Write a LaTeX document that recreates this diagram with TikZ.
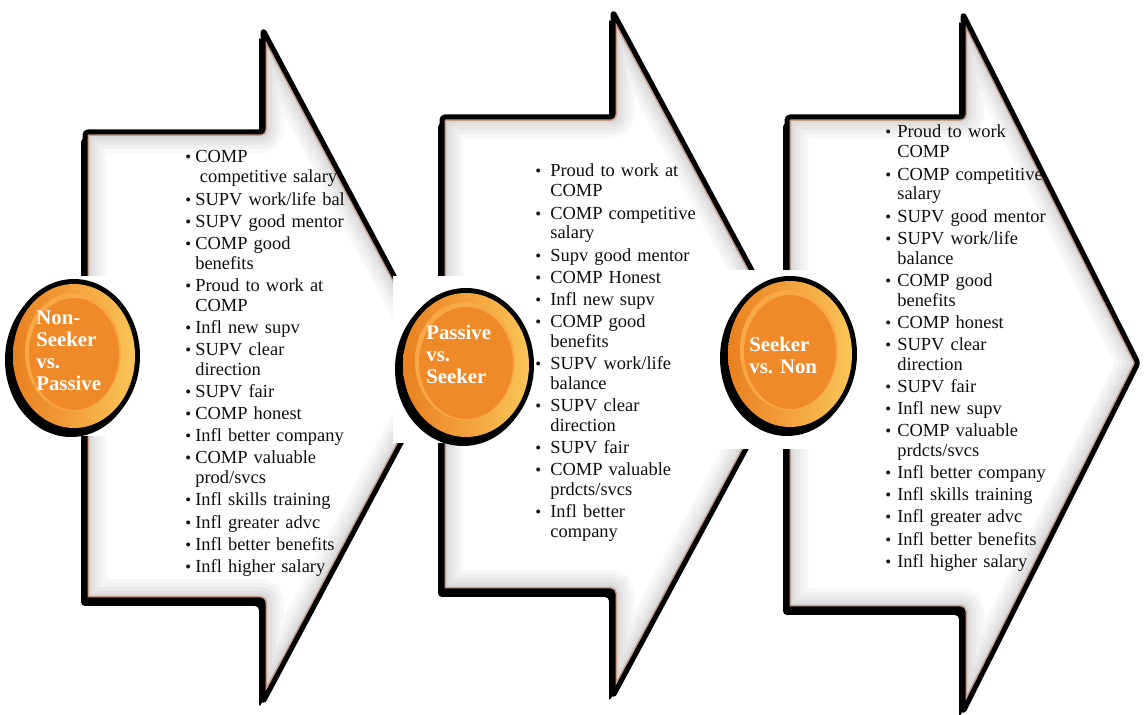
\documentclass[tikz,border=0pt]{standalone}
\usepackage{fontspec}
\setmainfont{Liberation Serif}
\newlength\pxl \setlength\pxl{0.02cm}
\newlength\bind
\definecolor{orbring}{RGB}{234,128,32}
\definecolor{orbhl}{RGB}{250,196,88}
\definecolor{orbcore}{RGB}{240,138,40}
\definecolor{orbrim}{RGB}{249,168,72}
\definecolor{bevrim}{RGB}{200,156,136}
\definecolor{inktext}{RGB}{15,15,15}

\tikzset{
  chevshadow/.style={fill=black, rounded corners=4\pxl},
  chevfill/.style={fill=white, rounded corners=3\pxl},
  chevedge/.style={draw=black, line width=5\pxl, rounded corners=3\pxl, line join=round},
  listtext/.style={anchor=base west, inner sep=0pt, text width=300\pxl, text=inktext,
    font=\fontsize{10.49pt}{11.34pt}\selectfont},
  orbtext/.style={anchor=base west, inner sep=0pt, text width=100\pxl, align=left, text=white,
    font=\bfseries\fontsize{11.85pt}{12.47pt}\selectfont},
}

% left x, body half height, neck x, head half height, tip x, middle y
\newcommand{\chevpath}[6]{(#1,#6-#2) -- (#3,#6-#2) -- (#3,#6-#4) -- (#5,#6) -- (#3,#6+#4) -- (#3,#6+#2) -- (#1,#6+#2) -- cycle}
\newcommand{\chevron}[6]{%
  \fill[chevshadow, shift={(-4,6)}] \chevpath{#1}{#2}{#3}{#4}{#5}{#6};
  \fill[chevfill] \chevpath{#1}{#2}{#3}{#4}{#5}{#6};
  \begin{scope}
    \clip \chevpath{#1}{#2}{#3}{#4}{#5}{#6};
    \foreach \w/\c in {42/3, 34/6, 26/9, 18/12, 12/15}
      \draw[black!\c, line width=\w\pxl, rounded corners=3\pxl] \chevpath{#1}{#2}{#3}{#4}{#5}{#6};
    \draw[bevrim, line width=8\pxl, rounded corners=3\pxl] \chevpath{#1}{#2}{#3}{#4}{#5}{#6};
  \end{scope}
  \draw[chevedge] \chevpath{#1}{#2}{#3}{#4}{#5}{#6};
}
% name, x, y, x radius, y radius
\newcommand{\orb}[5]{%
  \coordinate (#1) at (#2,#3);
  \fill[black] (#2-3,#3+4) ellipse [x radius=#4, y radius=#5];
  \fill[black] (#2,#3) ellipse [x radius=#4, y radius=#5];
  \shade[left color=orbring, middle color=orbring, right color=orbhl] (#2,#3) ellipse [x radius=#4-5, y radius=#5-5];
  \fill[orbrim] (#2-1,#3-4) ellipse [x radius=#4-18, y radius=#5-18];
  \fill[orbcore] (#2,#3-2) ellipse [x radius=#4-21, y radius=#5-21];
}
\newcommand{\bitem}[1]{\hangindent=\bind\hangafter=1\noindent
  \hbox to\bind{{\fontsize{9.5pt}{9.5pt}\selectfont\textbullet}\hfil}#1\par}

\begin{document}
\begin{tikzpicture}[x=0.02cm, y=-0.02cm]
  \useasboundingbox (0,0) rectangle (1144,715);
  % Arrows
  \chevron{85}{234}{263}{336}{442}{366}
  \chevron{442}{237}{613}{342}{797}{354}
  \chevron{787}{246}{963}{349}{1138}{363}
  % white bands behind the circles
  \fill[white] (0,276) rectangle (150,436);
  \fill[white] (393,276) rectangle (540,443);
  \fill[white] (712,270) rectangle (870,449);
  % Circles
  \orb{c1}{74}{356}{66}{77}
  \orb{c2}{466}{365}{68}{77}
  \orb{c3}{790}{354}{67}{78}
  \node[orbtext] (t1) at (36,325) {Non-\\Seeker\\vs.\\Passive};
  \node[orbtext] (t2) at (426,340) {Passive\\vs.\\Seeker};
  \node[orbtext] (t3) at (749,352) {Seeker\\vs.\ Non};
  % Lists
  \node[listtext] (l1) at (185,163) {\setlength\bind{10\pxl}\setlength\parskip{1.25pt}%
    \bitem{COMP\newline\hspace*{4.6\pxl}competitive salary}
    \bitem{SUPV work/life bal}
    \bitem{SUPV good mentor}
    \bitem{COMP good\newline benefits}
    \bitem{Proud to work at\newline COMP}
    \bitem{Infl new supv}
    \bitem{SUPV clear\newline direction}
    \bitem{SUPV fair}
    \bitem{COMP honest}
    \bitem{Infl better company}
    \bitem{COMP valuable\newline prod/svcs}
    \bitem{Infl skills training}
    \bitem{Infl greater advc}
    \bitem{Infl better benefits}
    \bitem{Infl higher salary}};
  \node[listtext] (l2) at (535,177) {\setlength\bind{15\pxl}\setlength\parskip{1.25pt}%
    \bitem{Proud to work at\newline COMP}
    \bitem{COMP competitive\newline salary}
    \bitem{Supv good mentor}
    \bitem{COMP Honest}
    \bitem{Infl new supv}
    \bitem{COMP good\newline benefits}
    \bitem{SUPV work/life\newline balance}
    \bitem{SUPV clear\newline direction}
    \bitem{SUPV fair}
    \bitem{COMP valuable\newline prdcts/svcs}
    \bitem{Infl better\newline company}};
  \node[listtext] (l3) at (885,138) {\setlength\bind{12\pxl}\setlength\parskip{1.25pt}%
    \bitem{Proud to work\newline COMP}
    \bitem{COMP competitive\newline salary}
    \bitem{SUPV good mentor}
    \bitem{SUPV work/life\newline balance}
    \bitem{COMP good\newline benefits}
    \bitem{COMP honest}
    \bitem{SUPV clear\newline direction}
    \bitem{SUPV fair}
    \bitem{Infl new supv}
    \bitem{COMP valuable\newline prdcts/svcs}
    \bitem{Infl better company}
    \bitem{Infl skills training}
    \bitem{Infl greater advc}
    \bitem{Infl better benefits}
    \bitem{Infl higher salary}};
\end{tikzpicture}
\end{document}
